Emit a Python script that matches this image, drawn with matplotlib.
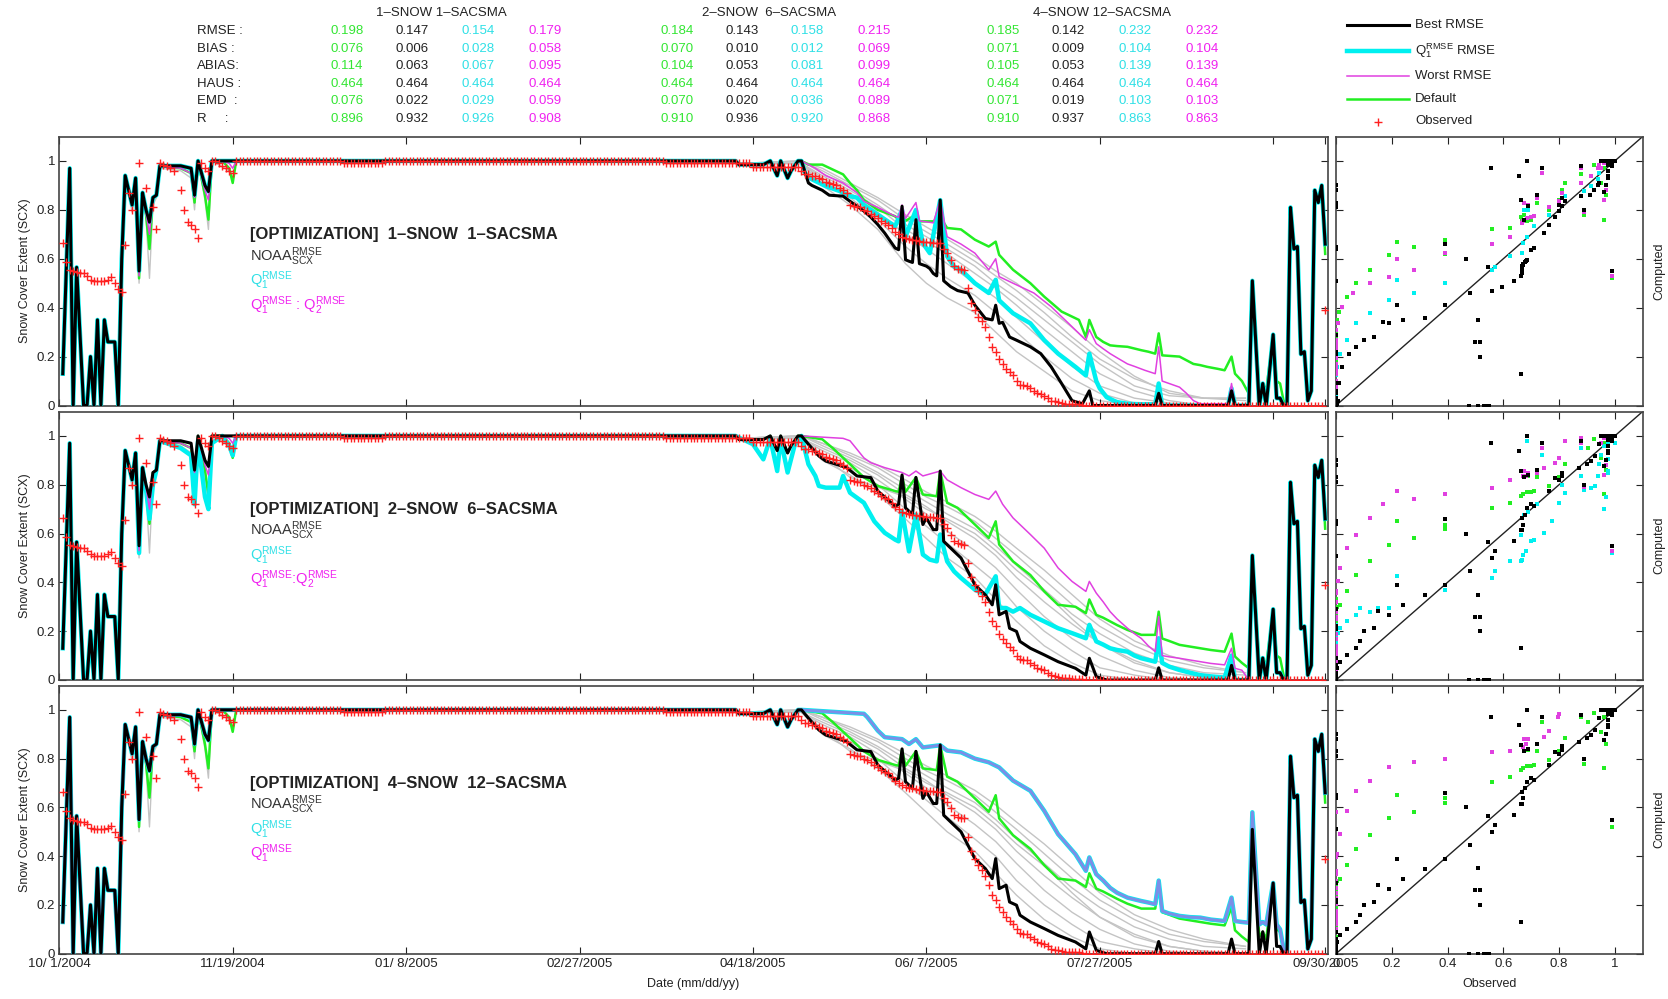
import numpy as np
import matplotlib
matplotlib.use("Agg")
import matplotlib.pyplot as plt

plt.rcParams["font.family"] = ["Liberation Sans", "DejaVu Sans"]
plt.rcParams["mathtext.fontset"] = "custom"
plt.rcParams["mathtext.rm"] = "Liberation Sans"
plt.rcParams["mathtext.it"] = "Liberation Sans:italic"
plt.rcParams["mathtext.bf"] = "Liberation Sans:bold"

# --- statistics table (one list per column, rows = STAT_NAMES) ---------------
STAT_NAMES = ["RMSE :", "BIAS :", "ABIAS:", "HAUS :", "EMD  :", "R     :"]
CASE_TITLES = ["1\u2013SNOW 1\u2013SACSMA", "2\u2013SNOW  6\u2013SACSMA", "4\u2013SNOW 12\u2013SACSMA"]
S1_DEFAULT = [0.198, 0.076, 0.114, 0.464, 0.076, 0.896]
S1_BEST = [0.147, 0.006, 0.063, 0.464, 0.022, 0.932]
S1_Q1 = [0.154, 0.028, 0.067, 0.464, 0.029, 0.926]
S1_WORST = [0.179, 0.058, 0.095, 0.464, 0.059, 0.908]
S2_DEFAULT = [0.184, 0.070, 0.104, 0.464, 0.070, 0.910]
S2_BEST = [0.143, 0.010, 0.053, 0.464, 0.020, 0.936]
S2_Q1 = [0.158, 0.012, 0.081, 0.464, 0.036, 0.920]
S2_WORST = [0.215, 0.069, 0.099, 0.464, 0.089, 0.868]
S3_DEFAULT = [0.185, 0.071, 0.105, 0.464, 0.071, 0.910]
S3_BEST = [0.142, 0.009, 0.053, 0.464, 0.019, 0.937]
S3_Q1 = [0.232, 0.104, 0.139, 0.464, 0.103, 0.863]
S3_WORST = [0.232, 0.104, 0.139, 0.464, 0.103, 0.863]

# --- observed snow cover extent, day index counted from 10/1/2004 -----------
OBS_EARLY = [(1, 0.665), (2, 0.585), (3, 0.555), (4, 0.55), (5, 0.545), (6, 0.54),
             (7, 0.54), (8, 0.53), (9, 0.515), (10, 0.51), (11, 0.51), (12, 0.51),
             (13, 0.51), (14, 0.515), (15, 0.525), (16, 0.5), (17, 0.478), (18, 0.466),
             (19, 0.656), (20, 0.87), (21, 0.8), (23, 0.99), (25, 0.89), (27, 0.81),
             (28, 0.72), (29, 0.99), (30, 0.985), (31, 0.98), (32, 0.97), (33, 0.96),
             (35, 0.88), (36, 0.8), (37, 0.75), (38, 0.74), (39, 0.72), (40, 0.685),
             (41, 0.99), (42, 0.97), (43, 0.96), (44, 1.0), (45, 1.0), (46, 0.99),
             (47, 0.98), (48, 0.97), (49, 0.96), (50, 0.95), (51, 1.0)]
OBS_RUNS = [(52, 81, 1.0), (82, 93, 0.99), (94, 174, 1.0), (175, 199, 0.99),
            (200, 213, 0.975), (296, 364, 0.0)]
OBS_MELT_START = 214
OBS_MELT = [0.96, 0.945, 0.945, 0.94, 0.94, 0.93, 0.925, 0.915, 0.91, 0.905,
            0.9, 0.89, 0.88, 0.87, 0.82, 0.815, 0.81, 0.81, 0.8, 0.795,
            0.785, 0.775, 0.765, 0.755, 0.745, 0.74, 0.725, 0.71, 0.7, 0.69,
            0.685, 0.68, 0.678, 0.675, 0.671, 0.67, 0.668, 0.667, 0.666, 0.665,
            0.664, 0.64, 0.623, 0.596, 0.57, 0.56, 0.558, 0.555, 0.48, 0.42,
            0.39, 0.363, 0.345, 0.32, 0.28, 0.24, 0.22, 0.19, 0.17, 0.15,
            0.135, 0.123, 0.1, 0.085, 0.082, 0.08, 0.07, 0.06, 0.05, 0.045,
            0.04, 0.03, 0.02, 0.017, 0.014, 0.01, 0.008, 0.007, 0.006, 0.005,
            0.005, 0.004]
OBS_LAST = (365, 0.39)

# --- simulated SCX pieces shared by all runs --------------------------------
EARLY_BEST = [(1, 0.13), (3, 0.97), (4, 0.0), (5, 0.565), (7, 0.0), (8, 0.0), (9, 0.2),
              (10, 0.0), (11, 0.35), (12, 0.0), (13, 0.35), (14, 0.26), (16, 0.26),
              (17, 0.0), (18, 0.6), (19, 0.94), (21, 0.82), (22, 0.93), (23, 0.55),
              (24, 0.87), (25, 0.8), (26, 0.75), (27, 0.85), (28, 0.86), (29, 0.98),
              (35, 0.98), (38, 0.97), (39, 0.86), (40, 1.0), (42, 0.9), (43, 0.875),
              (44, 1.0), (47, 1.0), (49, 1.0), (50, 1.0), (51, 1.0)]
EARLY_WORST = [(1, 0.13), (3, 0.97), (4, 0.0), (5, 0.565), (7, 0.0), (8, 0.0), (9, 0.2),
               (10, 0.0), (11, 0.35), (12, 0.0), (13, 0.35), (14, 0.26), (16, 0.26),
               (17, 0.0), (18, 0.6), (19, 0.94), (21, 0.82), (22, 0.93), (23, 0.53),
               (24, 0.87), (25, 0.79), (26, 0.7), (27, 0.85), (28, 0.86), (29, 0.98),
               (35, 0.97), (38, 0.95), (39, 0.85), (40, 1.0), (42, 0.88), (43, 0.84),
               (44, 1.0), (47, 1.0), (49, 0.99), (50, 0.97), (51, 1.0)]
EARLY_DEFAULT = [(1, 0.13), (3, 0.97), (4, 0.0), (5, 0.565), (7, 0.0), (8, 0.0), (9, 0.2),
                 (10, 0.0), (11, 0.35), (12, 0.0), (13, 0.35), (14, 0.26), (16, 0.26),
                 (17, 0.0), (18, 0.6), (19, 0.94), (21, 0.82), (22, 0.93), (23, 0.52),
                 (24, 0.87), (25, 0.78), (26, 0.64), (27, 0.85), (28, 0.86), (29, 0.98),
                 (35, 0.97), (38, 0.95), (39, 0.83), (40, 1.0), (42, 0.86), (43, 0.76),
                 (44, 1.0), (47, 1.0), (49, 0.97), (50, 0.91), (51, 1.0)]
EARLY_Q1_P2 = [(1, 0.13), (3, 0.97), (4, 0.0), (5, 0.565), (7, 0.0), (8, 0.0), (9, 0.2),
               (10, 0.0), (11, 0.35), (12, 0.0), (13, 0.35), (14, 0.26), (16, 0.26),
               (17, 0.0), (18, 0.6), (19, 0.94), (21, 0.82), (22, 0.93), (23, 0.52),
               (24, 0.87), (25, 0.78), (26, 0.66), (27, 0.8), (28, 0.86), (29, 0.98),
               (35, 0.95), (38, 0.92), (39, 0.72), (40, 0.98), (42, 0.75), (43, 0.7),
               (44, 0.97), (47, 1.0), (49, 0.96), (50, 0.92), (51, 1.0)]
# a grey member that drops lower during the first snowfalls
EARLY_GRAY = [(17, 0.0), (18, 0.58), (19, 0.93), (21, 0.79), (22, 0.9), (23, 0.5),
              (24, 0.85), (25, 0.77), (26, 0.52), (27, 0.82), (28, 0.85), (29, 0.97),
              (35, 0.96), (38, 0.93), (39, 0.8), (40, 1.0), (42, 0.84), (43, 0.72),
              (44, 1.0), (49, 0.96), (50, 0.92), (51, 1.0)]
FLAT = [(100, 1.0), (150, 1.0), (195, 1.0)]
PRE_MELT = [(196, 0.985), (203, 0.985), (205, 1.0), (207, 0.94), (208, 1.0), (210, 0.93),
            (211, 0.96), (213, 1.0), (214, 1.0)]
LATE = [(343, 0.0), (344, 0.51), (346, 0.0), (347, 0.09), (348, 0.0), (350, 0.29),
        (351, 0.03), (352, 0.03), (353, 0.0), (354, 0.0), (355, 0.81), (356, 0.64),
        (357, 0.65), (358, 0.21), (359, 0.22), (360, 0.02), (361, 0.06), (362, 0.88),
        (363, 0.83), (364, 0.9), (365, 0.66)]
LATE_DEFAULT = [(343, 0.048), (344, 0.51), (346, 0.07), (347, 0.09), (348, 0.06), (350, 0.29),
                (351, 0.1), (352, 0.09), (353, 0.02), (354, 0.0), (355, 0.81), (356, 0.64),
                (357, 0.65), (358, 0.21), (359, 0.22), (360, 0.02), (361, 0.06), (362, 0.88),
                (363, 0.83), (364, 0.9), (365, 0.62)]
LATE_Q1_P3 = [(343, 0.127), (344, 0.58), (346, 0.12), (347, 0.13), (348, 0.12), (350, 0.29),
              (351, 0.12), (352, 0.1), (353, 0.02), (354, 0.0), (355, 0.81), (356, 0.64),
              (357, 0.65), (358, 0.21), (359, 0.22), (360, 0.02), (361, 0.06), (362, 0.88),
              (363, 0.83), (364, 0.9), (365, 0.66)]

# --- melt season, per configuration ----------------------------------------
P1_BEST_MELT = [(216, 0.91), (217, 0.9), (220, 0.88), (222, 0.86), (226, 0.856), (228, 0.835),
                (230, 0.815), (232, 0.795), (234, 0.77), (236, 0.74), (238, 0.705), (241, 0.644),
                (242, 0.637), (243, 0.815), (244, 0.596), (245, 0.59), (246, 0.585), (247, 0.76),
                (248, 0.58), (249, 0.575), (250, 0.57), (251, 0.56), (252, 0.54), (253, 0.53),
                (254, 0.84), (255, 0.51), (257, 0.486), (259, 0.47), (262, 0.46), (264, 0.41),
                (267, 0.356), (269, 0.35), (270, 0.41), (271, 0.336), (272, 0.34), (274, 0.28),
                (276, 0.267), (280, 0.24), (283, 0.212), (286, 0.158), (289, 0.09), (292, 0.02),
                (295, 0.007), (297, 0.06), (298, 0.0), (300, 0.0), (316, 0.0), (317, 0.05),
                (318, 0.0), (337, 0.0), (338, 0.06), (339, 0.0)]
P1_DEF_MELT = [(216, 0.985), (220, 0.985), (226, 0.945), (228, 0.91), (230, 0.88), (232, 0.84),
               (236, 0.8), (241, 0.774), (242, 0.76), (243, 0.8), (244, 0.755), (247, 0.78),
               (248, 0.753), (252, 0.753), (254, 0.77), (256, 0.726), (260, 0.72), (264, 0.678),
               (268, 0.65), (270, 0.67), (271, 0.616), (275, 0.555), (280, 0.5), (284, 0.445),
               (289, 0.384), (294, 0.35), (296, 0.28), (297, 0.35), (299, 0.28), (301, 0.26),
               (303, 0.246), (305, 0.243), (308, 0.24), (310, 0.233), (312, 0.226), (314, 0.22),
               (316, 0.212), (317, 0.295), (318, 0.205), (320, 0.203), (323, 0.2), (325, 0.185),
               (327, 0.17), (329, 0.165), (331, 0.158), (334, 0.15), (336, 0.144), (338, 0.2),
               (339, 0.13), (341, 0.1)]
P1_WORST_MELT = [(216, 0.985), (218, 0.97), (221, 0.94), (226, 0.91), (230, 0.87), (232, 0.835),
                 (236, 0.81), (241, 0.774), (242, 0.77), (243, 0.82), (244, 0.765), (247, 0.83),
                 (248, 0.755), (252, 0.747), (254, 0.84), (256, 0.69), (260, 0.66), (264, 0.623),
                 (268, 0.555), (270, 0.6), (271, 0.527), (275, 0.5), (281, 0.46), (286, 0.404),
                 (291, 0.336), (296, 0.267), (297, 0.31), (299, 0.253), (301, 0.232), (303, 0.212),
                 (305, 0.195), (308, 0.17), (310, 0.16), (313, 0.144), (316, 0.13), (317, 0.24),
                 (318, 0.1), (320, 0.09), (323, 0.075), (325, 0.05), (327, 0.02), (329, 0.007),
                 (333, 0.007), (337, 0.007), (338, 0.09), (339, 0.0)]
P1_Q1_MELT = [(215, 0.95), (217, 0.925), (221, 0.897), (225, 0.877), (228, 0.856), (230, 0.85),
              (232, 0.82), (236, 0.78), (241, 0.733), (243, 0.8), (244, 0.69), (247, 0.8),
              (249, 0.664), (251, 0.623), (254, 0.84), (256, 0.61), (258, 0.568), (260, 0.555),
              (264, 0.5), (268, 0.46), (270, 0.514), (271, 0.43), (275, 0.377), (280, 0.336),
              (284, 0.267), (288, 0.212), (293, 0.158), (296, 0.123), (297, 0.212), (299, 0.1),
              (300, 0.07), (302, 0.034), (304, 0.02), (305, 0.014), (308, 0.007), (312, 0.005),
              (316, 0.005), (317, 0.09), (318, 0.0), (337, 0.0), (338, 0.07), (339, 0.0)]
P2_BEST_MELT = [(216, 0.966), (219, 0.918), (221, 0.897), (224, 0.884), (227, 0.87), (230, 0.836),
                (234, 0.829), (236, 0.774), (241, 0.712), (242, 0.719), (243, 0.84), (244, 0.705),
                (246, 0.678), (247, 0.83), (249, 0.637), (250, 0.664), (252, 0.616), (253, 0.616),
                (254, 0.856), (255, 0.568), (258, 0.527), (260, 0.5), (262, 0.445), (264, 0.39),
                (267, 0.349), (269, 0.308), (270, 0.39), (271, 0.267), (273, 0.281), (274, 0.212),
                (276, 0.199), (277, 0.158), (280, 0.13), (284, 0.103), (288, 0.075), (293, 0.048),
                (296, 0.02), (297, 0.089), (299, 0.014), (302, 0.0), (316, 0.0), (317, 0.05),
                (318, 0.0), (337, 0.0), (338, 0.06), (339, 0.0)]
P2_DEF_MELT = [(220, 0.986), (223, 0.95), (228, 0.884), (232, 0.83), (236, 0.795), (241, 0.774),
               (242, 0.771), (243, 0.836), (244, 0.771), (247, 0.83), (249, 0.76), (253, 0.753),
               (254, 0.856), (256, 0.726), (259, 0.705), (264, 0.637), (268, 0.582), (270, 0.65),
               (271, 0.555), (275, 0.486), (280, 0.43), (284, 0.363), (288, 0.308), (293, 0.3),
               (296, 0.274), (297, 0.33), (299, 0.267), (301, 0.255), (303, 0.24), (305, 0.225),
               (308, 0.205), (310, 0.195), (312, 0.185), (314, 0.185), (316, 0.185), (317, 0.28),
               (318, 0.17), (320, 0.16), (323, 0.144), (326, 0.137), (329, 0.13), (332, 0.123),
               (336, 0.116), (338, 0.19), (339, 0.096), (341, 0.07)]
P2_WORST_MELT = [(226, 0.99), (228, 0.98), (232, 0.91), (234, 0.89), (238, 0.87), (243, 0.85),
                 (245, 0.836), (247, 0.856), (249, 0.836), (254, 0.856), (256, 0.82), (260, 0.788),
                 (264, 0.76), (268, 0.74), (270, 0.774), (272, 0.72), (275, 0.664), (280, 0.596),
                 (284, 0.54), (288, 0.459), (292, 0.404), (296, 0.363), (297, 0.404), (299, 0.356),
                 (301, 0.32), (303, 0.28), (305, 0.25), (308, 0.212), (310, 0.19), (312, 0.17),
                 (314, 0.14), (316, 0.116), (317, 0.26), (318, 0.1), (320, 0.095), (323, 0.089),
                 (326, 0.082), (329, 0.075), (332, 0.068), (336, 0.062), (338, 0.13), (339, 0.048),
                 (341, 0.04)]
P2_Q1_MELT = [(200, 0.966), (203, 0.904), (205, 0.99), (207, 0.856), (208, 0.986), (210, 0.85),
              (212, 0.96), (214, 1.0), (216, 0.884), (218, 0.836), (219, 0.795), (221, 0.788),
              (225, 0.788), (226, 0.836), (228, 0.767), (232, 0.726), (235, 0.65), (238, 0.603),
              (241, 0.575), (242, 0.568), (243, 0.69), (245, 0.527), (247, 0.678), (249, 0.514),
              (251, 0.493), (253, 0.486), (254, 0.596), (256, 0.486), (258, 0.445), (260, 0.418),
              (264, 0.37), (267, 0.35), (270, 0.425), (271, 0.295), (273, 0.295), (275, 0.28),
              (277, 0.295), (280, 0.267), (284, 0.24), (288, 0.212), (292, 0.192), (296, 0.171),
              (297, 0.226), (299, 0.158), (301, 0.145), (303, 0.13), (305, 0.123), (308, 0.116),
              (310, 0.1), (312, 0.089), (314, 0.082), (316, 0.075), (317, 0.171), (318, 0.07),
              (320, 0.055), (323, 0.041), (326, 0.03), (329, 0.02), (332, 0.015), (336, 0.01),
              (338, 0.1), (339, 0.0)]
P3_Q1_MELT = [(232, 0.984), (233, 0.97), (236, 0.915), (238, 0.888), (243, 0.88), (245, 0.86),
              (247, 0.88), (249, 0.846), (254, 0.855), (256, 0.833), (260, 0.826), (264, 0.8),
              (268, 0.785), (271, 0.764), (275, 0.71), (280, 0.668), (284, 0.586), (288, 0.49),
              (293, 0.408), (296, 0.34), (297, 0.395), (299, 0.326), (301, 0.3), (303, 0.27),
              (305, 0.25), (308, 0.23), (310, 0.223), (312, 0.216), (314, 0.21), (316, 0.203),
              (317, 0.3), (318, 0.175), (320, 0.165), (323, 0.155), (326, 0.15), (329, 0.148),
              (332, 0.14), (336, 0.134), (338, 0.23), (339, 0.134), (341, 0.13)]

# --- remaining ensemble members (grey) -------------------------------------
GRAY_DAYS = [196, 214, 220, 228, 236, 244, 250, 256, 264, 270, 276, 284, 292, 300, 310, 320, 330, 342]
GRAY_P1 = [
    [0.99, 0.99, 0.9, 0.82, 0.72, 0.58, 0.5, 0.44, 0.38, 0.3, 0.22, 0.14, 0.06, 0.02, 0.0, 0.0, 0.0, 0.0],
    [0.99, 0.99, 0.92, 0.85, 0.76, 0.65, 0.58, 0.52, 0.45, 0.38, 0.3, 0.2, 0.11, 0.05, 0.01, 0.0, 0.0, 0.0],
    [0.99, 0.99, 0.93, 0.87, 0.79, 0.7, 0.64, 0.58, 0.5, 0.44, 0.36, 0.26, 0.16, 0.08, 0.03, 0.01, 0.0, 0.0],
    [0.99, 0.99, 0.94, 0.88, 0.81, 0.72, 0.67, 0.62, 0.54, 0.48, 0.41, 0.31, 0.22, 0.13, 0.06, 0.02, 0.0, 0.0],
    [0.99, 1.0, 0.95, 0.89, 0.82, 0.74, 0.69, 0.64, 0.57, 0.5, 0.44, 0.35, 0.26, 0.17, 0.08, 0.04, 0.03, 0.03],
    [0.99, 1.0, 0.96, 0.9, 0.84, 0.76, 0.71, 0.66, 0.59, 0.53, 0.47, 0.38, 0.28, 0.19, 0.11, 0.06, 0.03, 0.03],
    [0.99, 1.0, 0.97, 0.91, 0.85, 0.78, 0.73, 0.68, 0.61, 0.55, 0.5, 0.41, 0.32, 0.22, 0.12, 0.05, 0.03, 0.02],
]
GRAY_P23 = [
    [0.99, 0.99, 0.9, 0.84, 0.76, 0.66, 0.58, 0.5, 0.42, 0.33, 0.24, 0.14, 0.07, 0.02, 0.0, 0.0, 0.0, 0.0],
    [0.99, 0.99, 0.92, 0.87, 0.8, 0.7, 0.63, 0.56, 0.47, 0.4, 0.3, 0.2, 0.12, 0.05, 0.02, 0.0, 0.0, 0.0],
    [0.99, 0.99, 0.94, 0.89, 0.82, 0.74, 0.68, 0.61, 0.53, 0.46, 0.37, 0.26, 0.17, 0.1, 0.04, 0.01, 0.0, 0.0],
    [0.99, 0.99, 0.95, 0.9, 0.84, 0.76, 0.71, 0.65, 0.58, 0.51, 0.42, 0.32, 0.23, 0.15, 0.08, 0.03, 0.01, 0.0],
    [0.99, 1.0, 0.96, 0.91, 0.85, 0.78, 0.73, 0.68, 0.62, 0.55, 0.47, 0.37, 0.27, 0.19, 0.11, 0.06, 0.03, 0.02],
    [0.99, 1.0, 0.97, 0.92, 0.87, 0.8, 0.75, 0.71, 0.65, 0.58, 0.51, 0.41, 0.31, 0.22, 0.14, 0.08, 0.05, 0.03],
    [0.99, 1.0, 0.97, 0.93, 0.88, 0.82, 0.77, 0.73, 0.67, 0.61, 0.54, 0.45, 0.35, 0.25, 0.16, 0.1, 0.06, 0.03],
    [0.99, 1.0, 0.92, 0.83, 0.79, 0.75, 0.7, 0.66, 0.6, 0.53, 0.45, 0.36, 0.25, 0.15, 0.07, 0.03, 0.01, 0.0],
]

DATE_TICKS = [0, 50, 100, 150, 200, 250, 300, 350, 365]
DATE_LABELS = ["10/ 1/2004", "11/19/2004", "01/ 8/2005", "02/27/2005", "04/18/2005",
               "06/ 7/2005", "07/27/2005", "", "09/30/2005"]

GREEN, CYAN, MAGENTA, BLACK, RED, GREY = "#22ee22", "#00f0f0", "#e040e0", "#000000", "#ff2020", "#c4c4c4"
TXT_GREEN, TXT_CYAN, TXT_MAGENTA = "#33e633", "#2fe0e6", "#f022f0"


def join(*parts):
    pts = [p for part in parts for p in part]
    return np.array([p[0] for p in pts]), np.array([p[1] for p in pts])


# daily observed series (NaN = no observation)
obs = np.full(366, np.nan)
for d, v in OBS_EARLY:
    obs[d] = v
for a, b, v in OBS_RUNS:
    obs[a:b + 1] = v
obs[OBS_MELT_START:OBS_MELT_START + len(OBS_MELT)] = OBS_MELT
obs[OBS_LAST[0]] = OBS_LAST[1]

panels = [
    dict(title="1\u2013SNOW  1\u2013SACSMA", q2=r"Q$_1^{\rm RMSE}$ : Q$_2^{\rm RMSE}$",
         gray=GRAY_P1, same_q1=False,
         best=join(EARLY_BEST, FLAT, PRE_MELT, P1_BEST_MELT, LATE),
         q1=join(EARLY_BEST, FLAT, PRE_MELT, P1_Q1_MELT, LATE),
         worst=join(EARLY_WORST, FLAT, PRE_MELT, P1_WORST_MELT, LATE),
         default=join(EARLY_DEFAULT, FLAT, PRE_MELT, P1_DEF_MELT, LATE_DEFAULT),
         stats=[S1_DEFAULT, S1_BEST, S1_Q1, S1_WORST]),
    dict(title="2\u2013SNOW  6\u2013SACSMA", q2=r"Q$_1^{\rm RMSE}$:Q$_2^{\rm RMSE}$",
         gray=GRAY_P23, same_q1=False,
         best=join(EARLY_BEST, FLAT, PRE_MELT, P2_BEST_MELT, LATE),
         q1=join(EARLY_Q1_P2, FLAT, P2_Q1_MELT, LATE),
         worst=join(EARLY_WORST, FLAT, PRE_MELT, P2_WORST_MELT, LATE),
         default=join(EARLY_DEFAULT, FLAT, PRE_MELT, P2_DEF_MELT, LATE_DEFAULT),
         stats=[S2_DEFAULT, S2_BEST, S2_Q1, S2_WORST]),
    dict(title="4\u2013SNOW  12\u2013SACSMA", q2=r"Q$_1^{\rm RMSE}$",
         gray=GRAY_P23, same_q1=True,
         best=join(EARLY_BEST, FLAT, PRE_MELT, P2_BEST_MELT, LATE),
         q1=join(EARLY_BEST, FLAT, PRE_MELT, P3_Q1_MELT, LATE_Q1_P3),
         worst=join(EARLY_BEST, FLAT, PRE_MELT, P3_Q1_MELT, LATE_Q1_P3),
         default=join(EARLY_DEFAULT, FLAT, PRE_MELT, P2_DEF_MELT, LATE_DEFAULT),
         stats=[S3_DEFAULT, S3_BEST, S3_Q1, S3_WORST]),
]

W, H = 1668, 999
fig = plt.figure(figsize=(W / 100, H / 100), dpi=100)

# axes boxes in pixels: (top, bottom)
ROWS = [(136.5, 405.5), (411.5, 680.0), (685.5, 953.7)]
TS_X = (59.3, 1327.6)
SC_X = (1336.0, 1642.7)


def box(x0, x1, top, bot):
    return [x0 / W, 1 - bot / H, (x1 - x0) / W, (bot - top) / H]


def style(ax):
    ax.tick_params(direction="in", top=True, right=True, length=5, width=0.8,
                   labelsize=9.5, pad=3, colors="#222")
    for s in ax.spines.values():
        s.set_linewidth(1.2)
        s.set_color("#444")


obs_days = np.where(~np.isnan(obs))[0]
for i, (p, (top, bot)) in enumerate(zip(panels, ROWS)):
    ax = fig.add_axes(box(*TS_X, top, bot))
    ax.plot(*join(EARLY_GRAY), color=GREY, lw=1.0, zorder=1)
    for g in p["gray"]:
        ax.plot(GRAY_DAYS, g, color=GREY, lw=1.0, zorder=1)
    ax.plot(*p["default"], color=GREEN, lw=1.8, zorder=2)
    ax.plot(*p["q1"], color=CYAN, lw=3.2, zorder=3)
    if p["same_q1"]:
        # worst run coincides with Q1 here: the two colours mix into blue
        ax.plot(*p["worst"], color=MAGENTA, lw=2.2, alpha=0.55, zorder=4)
    else:
        ax.plot(*p["worst"], color=MAGENTA, lw=1.1, zorder=4)
    ax.plot(*p["best"], color=BLACK, lw=2.2, zorder=5)
    ax.plot(obs_days, obs[obs_days], "+", color=RED, ms=5.5, mew=1.0, zorder=6)

    ax.set_xlim(0, 365.7)
    ax.set_ylim(0, 1.1)
    ax.set_yticks([0, 0.2, 0.4, 0.6, 0.8, 1.0])
    ax.set_yticklabels(["0", "0.2", "0.4", "0.6", "0.8", "1"])
    ax.set_xticks(DATE_TICKS)
    ax.set_xticklabels(DATE_LABELS if i == 2 else [])
    ax.set_ylabel("Snow Cover Extent (SCX)", fontsize=9, color="#222", labelpad=4)
    style(ax)

    ax.text(55, 0.70, "[OPTIMIZATION]  " + p["title"], fontsize=12, fontweight="bold",
            color="#222", va="center")
    ax.text(55, 0.61, r"NOAA$^{\rm RMSE}_{\rm SCX}$", fontsize=10.5, color="#333", va="center")
    ax.text(55, 0.51, r"Q$_1^{\rm RMSE}$", fontsize=10.5, color=TXT_CYAN, va="center")
    ax.text(55, 0.41, p["q2"], fontsize=10.5, color=TXT_MAGENTA, va="center")
    if i == 2:
        ax.set_xlabel("Date (mm/dd/yy)", fontsize=9, color="#222", labelpad=6)

    # observed vs computed
    sx = fig.add_axes(box(*SC_X, top, bot))
    for key, col, ms in [("default", GREEN, 2.8), ("q1", CYAN, 2.8),
                         ("worst", MAGENTA, 2.8), ("best", BLACK, 2.2)]:
        d, v = p[key]
        ok = ~np.isnan(obs[d])
        sx.plot(obs[d][ok], v[ok], "s", color=col, ms=ms, mew=0, zorder=3)
    sx.plot([0, 1.1], [0, 1.1], color="#222", lw=1.0, zorder=2)
    sx.set_xlim(0, 1.1)
    sx.set_ylim(0, 1.1)
    sx.set_xticks([0, 0.2, 0.4, 0.6, 0.8, 1.0])
    sx.set_yticks([0, 0.2, 0.4, 0.6, 0.8, 1.0])
    sx.set_xticklabels(["0", "0.2", "0.4", "0.6", "0.8", "1"] if i == 2 else [])
    sx.set_yticklabels([])
    sx.yaxis.set_label_position("right")
    sx.set_ylabel("Computed", fontsize=9, color="#222", labelpad=8)
    if i == 2:
        sx.set_xlabel("Observed", fontsize=9, color="#222", labelpad=6)
    style(sx)

# statistics table and legend along the top, laid out in pixels
ov = fig.add_axes([0, 0, 1, 1])
ov.set_xlim(0, W)
ov.set_ylim(H, 0)
ov.axis("off")

ROW_Y = [31, 48.5, 66, 84, 101, 119]
for name, y in zip(STAT_NAMES, ROW_Y):
    ov.text(197, y, name, fontsize=9.5, color="#222", va="center", ha="left")
GROUP_COLS = [[347, 412, 478, 545], [677, 742.5, 807.5, 874.5], [1003, 1068, 1135, 1202]]
HEAD_X = [441, 769, 1102]
for p, cols, hx, head in zip(panels, GROUP_COLS, HEAD_X, CASE_TITLES):
    ov.text(hx, 13, head, fontsize=9.5, color="#222", ha="center", va="center")
    for stat, cx, col in zip(p["stats"], cols, [TXT_GREEN, "#222", TXT_CYAN, TXT_MAGENTA]):
        for val, y in zip(stat, ROW_Y):
            ov.text(cx, y, f"{val:.3f}", fontsize=9.5, color=col, ha="center", va="center")

LEG_Y = [25, 50.5, 76, 99, 121.5]
ov.plot([1347, 1409], [LEG_Y[0]] * 2, color=BLACK, lw=2.2)
ov.plot([1347, 1409], [LEG_Y[1]] * 2, color=CYAN, lw=3.2)
ov.plot([1347, 1409], [LEG_Y[2]] * 2, color=MAGENTA, lw=1.1)
ov.plot([1347, 1409], [LEG_Y[3]] * 2, color=GREEN, lw=1.8)
ov.plot([1378], [LEG_Y[4]], "+", color=RED, ms=5.5, mew=1.0)
for lab, y in zip(["Best RMSE", r"Q$_1^{\rm RMSE}$ RMSE", "Worst RMSE", "Default", "Observed"], LEG_Y):
    ov.text(1415, y, lab, fontsize=9.5, color="#222", va="center", ha="left")

fig.savefig("out.png", dpi=100)
